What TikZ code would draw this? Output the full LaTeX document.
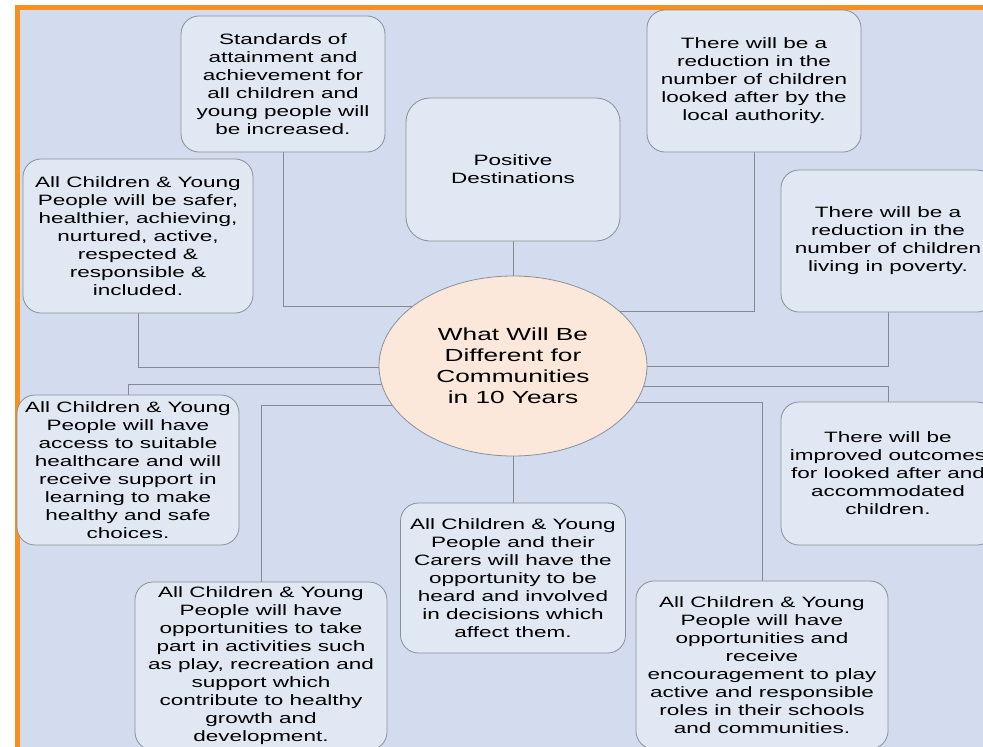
\documentclass[tikz,border=0pt]{standalone}
\usepackage{fontspec}
\setmainfont[FakeStretch=1.5]{Liberation Sans}
\usetikzlibrary{calc,shapes.geometric}
\pgfdeclarelayer{backdrop}
\pgfdeclarelayer{wires}
\pgfsetlayers{backdrop,wires,main}
\definecolor{pagebg}{HTML}{D3DCEE}
\definecolor{boxfill}{HTML}{DFE8F3}
\definecolor{boxline}{HTML}{8A8F98}
\definecolor{hubfill}{HTML}{FBE8DA}
\definecolor{wire}{HTML}{858A92}
\definecolor{frame}{HTML}{F7901E}

\begin{document}
\begin{tikzpicture}[x=1pt,y=-1pt,
  outcome/.style={draw=boxline, fill=boxfill, line width=0.8pt,
    rounded corners=18pt, align=center, inner sep=0pt,
    font=\fontsize{15}{18}\selectfont},
  size/.style 2 args={minimum width=#1pt, minimum height=#2pt},
  hub/.style={ellipse, draw=boxline, fill=hubfill, line width=0.8pt,
    align=center, inner sep=0pt, minimum width=268pt, minimum height=180pt,
    font=\fontsize{17.5}{21}\selectfont},
  conn/.style={draw=wire, line width=0.9pt}]

\useasboundingbox (0,0) rectangle (983,747);

% page frame
\begin{pgfonlayer}{backdrop}
  \fill[white] (0,0) rectangle (983,747);
  \fill[pagebg] (15,5) rectangle (983,747);
  \fill[frame] (15,5) rectangle (20,747);
  \fill[frame] (15,5) rectangle (983,10);
\end{pgfonlayer}

% central hub
\node[hub] (ell) at (513,366) {What Will Be\\Different for\\Communities\\in 10 Years};

% outcome boxes
\node[outcome, size={204}{136}] (std) at (283,84)
  {Standards of\\attainment and\\achievement for\\all children and\\young people will\\be increased.};
\node[outcome, size={214}{143}, rounded corners=24pt] (pos) at (513,169.5)
  {Positive\\Destinations};
\node[outcome, size={214}{142}] (lac) at (754,81)
  {There will be a\\reduction in the\\number of children\\looked after by the\\local authority.};
\node[outcome, size={214}{142}] (pov) at (888,241)
  {There will be a\\reduction in the\\number of children\\living in poverty.};
\node[outcome, size={230}{154}] (safe) at (138,236)
  {All Children \& Young\\People will be safer,\\healthier, achieving,\\nurtured, active,\\respected \&\\responsible \&\\included.};
\node[outcome, size={222}{150}] (hc) at (128,470)
  {All Children \& Young\\People will have\\access to suitable\\healthcare and will\\receive support in\\learning to make\\healthy and safe\\choices.};
\node[outcome, size={214}{143}] (imp) at (888,473.5)
  {There will be\\improved outcomes\\for looked after and\\accommodated\\children.};
\node[outcome, size={252}{168}] (act) at (261,666)
  {All Children \& Young\\People will have\\opportunities to take\\part in activities such\\as play, recreation and\\support which\\contribute to healthy\\growth and\\development.};
\node[outcome, size={225}{150}] (hrd) at (513,578)
  {All Children \& Young\\People and their\\Carers will have the\\opportunity to be\\heard and involved\\in decisions which\\affect them.};
\node[outcome, size={252}{168}] (enc) at (762,665)
  {All Children \& Young\\People will have\\opportunities and\\receive\\encouragement to play\\active and responsible\\roles in their schools\\and communities.};

% connectors to the hub
\begin{pgfonlayer}{wires}
  \draw[conn] (pos.south) -- (ell.center);
  \draw[conn] (ell.center) -- (hrd.north);
  \draw[conn] (std.south) |- ($(ell.center)+(0,-60)$);
  \draw[conn] (lac.south) |- ($(ell.center)+(0,-55)$);
  \draw[conn] (safe.south) |- ($(ell.center)+(0,1)$);
  \draw[conn] (pov.south) |- ($(ell.center)+(0,0)$);
  \draw[conn] (hc.north) |- ($(ell.center)+(0,18)$);
  \draw[conn] (imp.north) |- ($(ell.center)+(0,20)$);
  \draw[conn] (act.north) |- ($(ell.center)+(0,39)$);
  \draw[conn] (enc.north) |- ($(ell.center)+(0,36)$);
\end{pgfonlayer}
\end{tikzpicture}
\end{document}
